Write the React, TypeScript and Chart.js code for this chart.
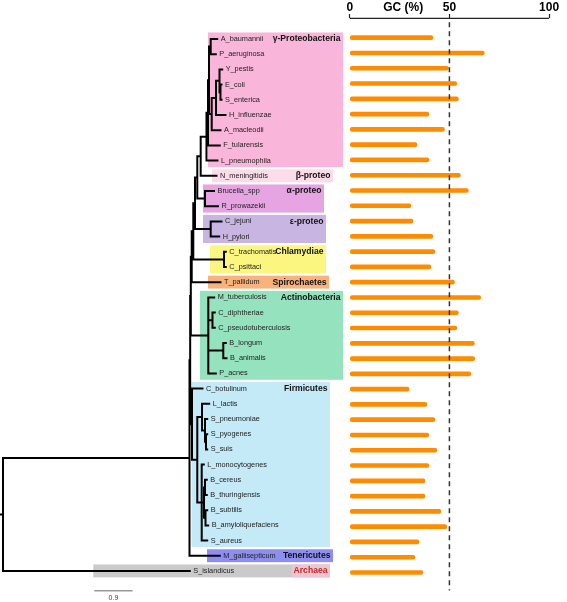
import React, { useEffect, useRef } from 'react';
import { Chart, registerables } from 'chart.js';

Chart.register(...registerables);

// ---------------- data ----------------
const taxa = [
  'A_baumannii', 'P_aeruginosa', 'Y_pestis', 'E_coli', 'S_enterica', 'H_influenzae',
  'A_macleodii', 'F_tularensis', 'L_pneumophila', 'N_meningitidis', 'Brucella_spp',
  'R_prowazekii', 'C_jejuni', 'H_pylori', 'C_trachomatis', 'C_psittaci', 'T_pallidum',
  'M_tuberculosis', 'C_diphtheriae', 'C_pseudotuberculosis', 'B_longum', 'B_animalis',
  'P_acnes', 'C_botulinum', 'L_lactis', 'S_pneumoniae', 'S_pyogenes', 'S_suis',
  'L_monocytogenes', 'B_cereus', 'B_thuringiensis', 'B_subtilis', 'B_amyloliquefaciens',
  'S_aureus', 'M_gallisepticum', 'S_islandicus',
];

const gcContent = [
  41.7, 67.5, 49.5, 53.7, 54.5, 39.7, 47.5, 33.7, 39.7, 55.5, 59.5,
  30.7, 31.7, 41.7, 42.7, 40.7, 52.5,
  65.7, 54.5, 53.7, 62.5, 62.7, 60.7,
  29.7, 38.7, 42.7, 39.7, 43.7, 39.7, 37.7, 37.7, 45.7, 48.7, 34.7,
  32.7, 36.7,
];

const gcAxisTicks = [0, 50, 100];
const gcAxisTitle = 'GC (%)';
const gcReference = 50;

const cladeNames = ['γ-Proteobacteria', 'β-proteo', 'α-proteo', 'ε-proteo', 'Chlamydiae',
  'Spirochaetes', 'Actinobacteria', 'Firmicutes', 'Tenericutes', 'Archaea'];
const cladeFirst = [0, 9, 10, 12, 14, 16, 17, 23, 34, 35];
const cladeLast = [8, 9, 11, 13, 15, 16, 22, 33, 34, 35];

const scaleBarLength = 0.9;

// tree: node depth measured from the root (substitutions / site)
type TNode = { d: number; name?: string; kids?: TNode[] };
const T = (name: string, d: number): TNode => ({ name, d });
const N = (d: number, kids: TNode[]): TNode => ({ d, kids });

const gammaClade = N(4.781, [
  N(4.817, [
    N(4.840, [
      N(4.880, [T('A_baumannii', 5.033), T('P_aeruginosa', 5.000)]),
      N(4.904, [
        N(5.005, [
          N(5.087, [T('Y_pestis', 5.150), N(5.110, [T('E_coli', 5.134), T('S_enterica', 5.134)])]),
          T('H_influenzae', 5.228),
        ]),
        T('A_macleodii', 5.110),
      ]),
    ]),
    T('F_tularensis', 5.094),
  ]),
  T('L_pneumophila', 5.040),
]);
const alphaClade = N(4.746, [T('Brucella_spp', 4.958), T('R_prowazekii', 5.052)]);
const epsClade = N(4.880, [T('C_jejuni', 5.134), T('H_pylori', 5.080)]);
const chlClade = N(5.193, [T('C_trachomatis', 5.235), T('C_psittaci', 5.235)]);
const actClade = N(4.824, [
  T('M_tuberculosis', 4.962),
  N(4.922, [T('C_diphtheriae', 4.976), T('C_pseudotuberculosis', 4.976)]),
  N(5.176, [T('B_longum', 5.235), T('B_animalis', 5.251)]),
  T('P_acnes', 5.000),
]);
const firmClade = N(4.441, [
  T('C_botulinum', 4.687),
  N(4.565, [
    N(4.676, [
      T('L_lactis', 4.845),
      N(4.746, [T('S_pneumoniae', 4.798), N(4.770, [T('S_pyogenes', 4.798), T('S_suis', 4.798)])]),
    ]),
    N(4.669, [
      T('L_monocytogenes', 4.718),
      N(4.723, [
        N(4.746, [T('B_cereus', 4.788), T('B_thuringiensis', 4.788)]),
        N(4.758, [T('B_subtilis', 4.798), T('B_amyloliquefaciens', 4.821)]),
      ]),
      T('S_aureus', 4.798),
    ]),
  ]),
]);
const tree = N(0, [
  N(4.382, [
    N(4.398, [
      N(4.413, [
        N(4.434, [
          N(4.471, [
            N(4.511, [
              N(4.565, [
                N(4.645, [gammaClade, T('N_meningitidis', 5.016)]),
                alphaClade,
              ]),
              epsClade,
            ]),
            chlClade,
          ]),
          T('T_pallidum', 5.110),
        ]),
        actClade,
      ]),
      firmClade,
    ]),
    T('M_gallisepticum', 5.094),
  ]),
  T('S_islandicus', 4.389),
]);

// ---------------- styling / layout ----------------
const FONT = '"Liberation Sans", Arial, sans-serif';
const ROOT_STEM = -0.07;
const GC_TITLE_AT = 26.8;
const SCALEBAR_START = 2.145;
const BOX_PAD_TOP = 0.43;
const BOX_PAD_BOTTOM = 0.42;
const cladeStyle = [
  { x0: 4.817, x1: 7.989, fill: '#f9b6da', color: '#111' },
  { x0: 4.911, x1: 7.754, fill: '#fddcea', color: '#111' },
  { x0: 4.699, x1: 7.542, fill: '#e6a4e2', color: '#111' },
  { x0: 4.699, x1: 7.589, fill: '#c9b5e1', color: '#111' },
  { x0: 4.864, x1: 7.589, fill: '#fbf680', color: '#111' },
  { x0: 4.817, x1: 7.660, fill: '#f8b27c', color: '#111' },
  { x0: 4.629, x1: 7.989, fill: '#95e3be', color: '#111' },
  { x0: 4.429, x1: 7.683, fill: '#c4e9f7', color: '#111' },
  { x0: 4.793, x1: 7.754, fill: '#8e8ef0', color: '#111' },
  { x0: 2.122, x1: 7.683, fill: '#cacaca', color: '#c62828', labelFill: '#ebc5cf', labelX0: 6.783 },
];

export default function App() {
  const ref = useRef<HTMLCanvasElement>(null);

  useEffect(() => {
    document.body.style.margin = '0';
    const canvas = ref.current;
    if (!canvas) return;

    const tipDepth: Record<string, number> = {};
    const pts: { x: number; y: number | null }[] = [];
    const place = (n: TNode, pd: number): number => {
      let y: number;
      if (n.kids) {
        const ys = n.kids.map((k) => place(k, n.d));
        y = ys.reduce((a, b) => a + b, 0) / ys.length;
        pts.push({ x: n.d, y: Math.min(...ys) }, { x: n.d, y: Math.max(...ys) }, { x: n.d, y: null });
      } else {
        y = taxa.indexOf(n.name as string);
        tipDepth[n.name as string] = n.d;
      }
      pts.push({ x: pd, y }, { x: n.d, y }, { x: n.d, y: null });
      return y;
    };
    place(tree, ROOT_STEM);

    const decor = {
      id: 'decor',
      beforeDatasetsDraw(chart: any) {
        const { ctx } = chart;
        const xt = chart.scales.xt;
        const yt = chart.scales.yt;
        ctx.save();
        cladeNames.forEach((_, k) => {
          const st: any = cladeStyle[k];
          const x0 = xt.getPixelForValue(st.x0);
          const x1 = xt.getPixelForValue(st.x1);
          const y0 = yt.getPixelForValue(cladeFirst[k] - BOX_PAD_TOP);
          const y1 = yt.getPixelForValue(cladeLast[k] + BOX_PAD_BOTTOM);
          ctx.fillStyle = st.fill;
          ctx.fillRect(x0, y0, x1 - x0, y1 - y0);
          if (st.labelFill) {
            const lx = xt.getPixelForValue(st.labelX0);
            ctx.fillStyle = st.labelFill;
            ctx.fillRect(lx, y0, x1 - lx, y1 - y0);
          }
        });
        ctx.restore();
      },
      afterDatasetsDraw(chart: any) {
        const { ctx } = chart;
        const xt = chart.scales.xt;
        const yt = chart.scales.yt;
        ctx.save();
        ctx.textBaseline = 'middle';
        ctx.textAlign = 'left';
        ctx.font = `7.3px ${FONT}`;
        ctx.fillStyle = '#222';
        taxa.forEach((t, i) => {
          ctx.fillText(t, xt.getPixelForValue(tipDepth[t]) + 3.5, yt.getPixelForValue(i));
        });
        ctx.textAlign = 'right';
        ctx.font = `bold 8.6px ${FONT}`;
        cladeNames.forEach((name, k) => {
          const st: any = cladeStyle[k];
          ctx.fillStyle = st.color;
          ctx.fillText(name, xt.getPixelForValue(st.x1) - 2.5, yt.getPixelForValue(cladeFirst[k]));
        });
        // scale bar label
        ctx.textAlign = 'center';
        ctx.font = `7px ${FONT}`;
        ctx.fillStyle = '#444';
        ctx.fillText(
          String(scaleBarLength),
          xt.getPixelForValue(SCALEBAR_START + scaleBarLength / 2),
          yt.getPixelForValue(36.8),
        );
        ctx.restore();
      },
      afterDraw(chart: any) {
        const { ctx } = chart;
        const s = chart.scales.x;
        ctx.save();
        ctx.strokeStyle = '#222';
        ctx.lineWidth = 1.2;
        ctx.beginPath();
        ctx.moveTo(s.getPixelForValue(gcAxisTicks[0]), s.bottom + 0.4);
        ctx.lineTo(s.getPixelForValue(gcAxisTicks[gcAxisTicks.length - 1]), s.bottom + 0.4);
        ctx.stroke();
        ctx.restore();
      },
    };

    Chart.defaults.font.family = FONT;

    const hidden = (axis: string, reverse: boolean, min: number, max: number) => ({
      type: 'linear',
      axis,
      display: false,
      reverse,
      min,
      max,
      offset: false,
      grid: { offset: false },
    });

    const chart = new Chart(canvas, {
      type: 'bar',
      data: {
        datasets: [
          {
            type: 'line',
            label: 'GC 50%',
            data: [{ x: gcReference, y: -1.15 }, { x: gcReference, y: 36.05 }],
            xAxisID: 'x',
            yAxisID: 'y',
            borderColor: '#333',
            borderWidth: 1.5,
            borderDash: [5, 4],
            pointRadius: 0,
            order: 0,
          } as any,
          {
            type: 'bar',
            label: 'GC',
            indexAxis: 'y',
            data: taxa.map((_, i) => ({ x: gcContent[i], y: i })),
            xAxisID: 'x',
            yAxisID: 'y',
            backgroundColor: '#ff8c00',
            barThickness: 4,
            borderRadius: 2,
            borderSkipped: false,
            order: 1,
          } as any,
          {
            type: 'line',
            label: 'tree',
            data: pts,
            xAxisID: 'xt',
            yAxisID: 'yt',
            borderColor: '#000',
            borderWidth: 2,
            borderCapStyle: 'square',
            pointRadius: 0,
            spanGaps: false,
            order: 2,
          } as any,
          {
            type: 'line',
            label: 'scale',
            data: [{ x: SCALEBAR_START, y: 36.3 }, { x: SCALEBAR_START + scaleBarLength, y: 36.3 }],
            xAxisID: 'xt',
            yAxisID: 'yt',
            borderColor: '#999',
            borderWidth: 1.5,
            pointRadius: 0,
            order: 3,
          } as any,
        ],
      },
      options: {
        responsive: false,
        animation: false,
        events: [],
        layout: { padding: 0 },
        plugins: { legend: { display: false }, tooltip: { enabled: false } },
        scales: {
          x: {
            type: 'linear',
            axis: 'x',
            position: 'top',
            min: -175.5,
            max: 109,
            offset: false,
            afterFit: (s: any) => { s.height = 18; },
            afterBuildTicks: (s: any) => {
              s.ticks = [...gcAxisTicks, GC_TITLE_AT].sort((a, b) => a - b).map((v) => ({ value: v }));
            },
            ticks: {
              autoSkip: false,
              maxRotation: 0,
              minRotation: 0,
              padding: -1,
              color: '#000',
              font: { family: FONT, size: 12, weight: 'bold' },
              callback: (v: any) => (v === GC_TITLE_AT ? gcAxisTitle : String(v)),
            },
            grid: {
              offset: false,
              drawOnChartArea: false,
              drawTicks: true,
              tickLength: 4,
              tickWidth: 1.2,
              tickColor: (c: any) => (c.tick && c.tick.value === GC_TITLE_AT ? 'rgba(0,0,0,0)' : '#222'),
            },
            border: { display: false },
          },
          y: hidden('y', true, -1.42, 36.8),
          xt: hidden('x', false, -0.0705, 13.252),
          yt: hidden('y', true, -1.382, 37.04),
        } as any,
      },
      plugins: [decor],
    });

    return () => chart.destroy();
  }, []);

  return <canvas ref={ref} width={567} height={602} style={{ display: 'block' }} />;
}
